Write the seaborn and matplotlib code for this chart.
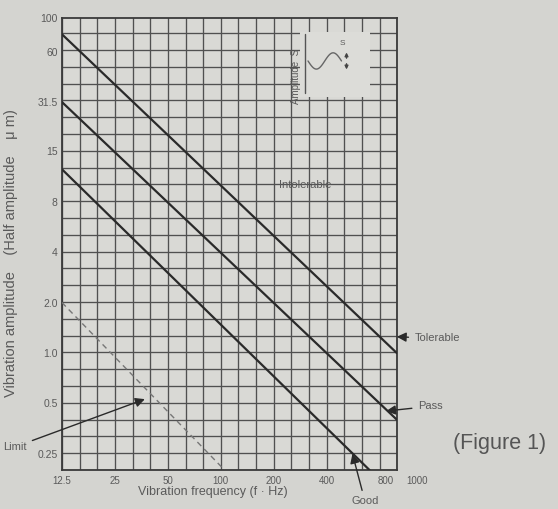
import numpy as np
import matplotlib
matplotlib.use("Agg")
import matplotlib.pyplot as plt
import matplotlib.transforms as mtransforms
from matplotlib.patches import Rectangle
import seaborn as sns

# severity lines: half amplitude (um) vs frequency (Hz)
freq_tolerable = [12.5, 1000]
amp_tolerable = [80, 1.0]
freq_pass = [12.5, 1000]
amp_pass = [31.5, 0.4]
freq_good = [12.5, 700]
amp_good = [12.5, 0.2]
freq_limit = [12.5, 105]
amp_limit = [2.0, 0.2]

x_ticks = [12.5, 25, 50, 100, 200, 400, 800, 1000]
x_tick_labels = ["12.5", "25", "50", "100", "200", "400", "800", "1000"]
y_ticks = [100, 63, 31.5, 16, 8, 4, 2, 1, 0.5, 0.25]
y_tick_labels = ["100", "60", "31.5", "15", "8", "4", "2.0", "1.0", "0.5", "0.25"]

PAPER = "#d4d4d0"
INK = "#2a2a2a"
TEXT = "#5a5a5a"

sns.set_theme(style="white")
plt.rcParams["font.family"] = ["Liberation Sans", "DejaVu Sans"]

fig = plt.figure(figsize=(5.58, 5.09), dpi=100)
fig.patch.set_facecolor(PAPER)
ax = fig.add_axes([0.111, 0.0766, 0.600, 0.888])
ax.set_facecolor("#d9d9d5")

ax.set_xscale("log")
ax.set_yscale("log")
ax.set_xlim(12.5, 1000)
ax.set_ylim(0.2, 100)

# third-octave grid
for k in range(0, 20):
    ax.axvline(12.5 * 2 ** (k / 3), color="#505050", lw=0.95, zorder=1)
for k in range(0, 28):
    ax.axhline(0.2 * 2 ** (k / 3), color="#505050", lw=0.95, zorder=1)

# inset sketch area
ax.add_patch(Rectangle((0.71, 0.825), 0.21, 0.145, transform=ax.transAxes,
                       facecolor="#dcdcd8", edgecolor="none", zorder=2))
ax.plot([0.725, 0.725], [0.835, 0.965], transform=ax.transAxes, color="#555", lw=1, zorder=3)
t = np.linspace(0, 1, 60)
ax.plot(0.735 + 0.1 * t, 0.905 - 0.018 * np.sin(2 * np.pi * t), transform=ax.transAxes,
        color="#666", lw=1, zorder=3)
ax.text(0.70, 0.87, "Amplitude  S", transform=ax.transAxes, rotation=90,
        ha="center", va="center", fontsize=7, color=TEXT, zorder=3)
ax.text(0.83, 0.94, "S", transform=ax.transAxes, fontsize=6, color=TEXT, zorder=3)
ax.annotate("", xy=(0.85, 0.93), xytext=(0.85, 0.905), xycoords="axes fraction",
            arrowprops=dict(arrowstyle="-|>", color="#444", lw=1, mutation_scale=5), zorder=3)
ax.annotate("", xy=(0.85, 0.88), xytext=(0.85, 0.905), xycoords="axes fraction",
            arrowprops=dict(arrowstyle="-|>", color="#444", lw=1, mutation_scale=5), zorder=3)

sns.lineplot(x=freq_tolerable, y=amp_tolerable, ax=ax, color=INK, lw=1.6, zorder=4)
sns.lineplot(x=freq_pass, y=amp_pass, ax=ax, color=INK, lw=1.6, zorder=4)
sns.lineplot(x=freq_good, y=amp_good, ax=ax, color=INK, lw=1.6, zorder=4)
sns.lineplot(x=freq_limit, y=amp_limit, ax=ax, color="#777", lw=1.0,
             linestyle=(0, (4, 3)), zorder=4)

ax.set_xticks(x_ticks)
ax.set_xticklabels(x_tick_labels)
ax.set_yticks(y_ticks)
ax.set_yticklabels(y_tick_labels)
ax.minorticks_off()
ax.tick_params(axis="x", length=0, pad=4, labelsize=7, labelcolor=TEXT)
ax.tick_params(axis="y", length=0, pad=3, labelsize=7.5, labelcolor=TEXT)
lbls = ax.get_xticklabels()
lbls[-2].set_transform(lbls[-2].get_transform() + mtransforms.ScaledTranslation(0.06, 0, fig.dpi_scale_trans))
lbls[-1].set_transform(lbls[-1].get_transform() + mtransforms.ScaledTranslation(0.2, 0, fig.dpi_scale_trans))

for spine in ax.spines.values():
    spine.set_edgecolor("#3a3a3a")
    spine.set_linewidth(1.3)

ax.set_xlabel("Vibration frequency (f · Hz)", fontsize=9, color=TEXT)
ax.xaxis.set_label_coords(0.45, -0.035)
ax.set_ylabel("Vibration amplitude    (Half amplitude    μ m)", fontsize=10.5, color=TEXT)
ax.yaxis.set_label_coords(-0.13, 0.48)

ax.text(300, 10, "Intolerable", ha="center", va="center", fontsize=8, color=TEXT, zorder=5)

arrow = dict(arrowstyle="-|>", color=INK, lw=1.0, mutation_scale=14, shrinkA=2, shrinkB=0)
ax.annotate("Tolerable", xy=(1000, 1.25), xytext=(1700, 1.22), ha="center", va="center",
            fontsize=8, color=TEXT, arrowprops=arrow, annotation_clip=False)
ax.annotate("Pass", xy=(870, 0.45), xytext=(1550, 0.48), ha="center", va="center",
            fontsize=8, color=TEXT, arrowprops=arrow, annotation_clip=False)
ax.annotate("Good", xy=(560, 0.25), xytext=(660, 0.13), ha="center", va="center",
            fontsize=8, color=TEXT, arrowprops=arrow, annotation_clip=False)
ax.annotate("Limit", xy=(37, 0.53), xytext=(3, 62), textcoords="figure pixels",
            ha="left", va="center", fontsize=8, color=TEXT, arrowprops=arrow,
            annotation_clip=False)

fig.text(500 / 558, 1 - 443 / 509, "(Figure 1)", ha="center", va="center",
         fontsize=15.5, color="#555")

fig.savefig("out.png", dpi=100, facecolor=PAPER)
